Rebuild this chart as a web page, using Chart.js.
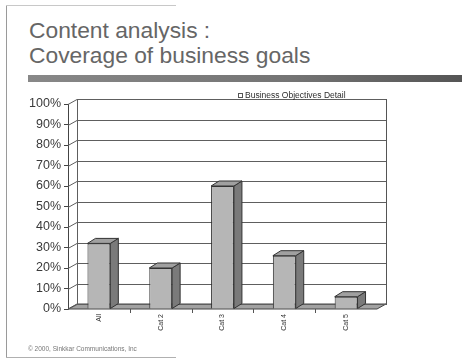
<!DOCTYPE html>
<html>
<head>
<meta charset="utf-8">
<script src="https://cdn.jsdelivr.net/npm/chart.js@4.4.1/dist/chart.umd.min.js"></script>
<style>
  html, body { margin: 0; padding: 0; background: #fff; }
  #slide { position: relative; width: 462px; height: 359px; overflow: hidden; background: #fff; filter: blur(0.35px); }
  #frameL { position: absolute; left: 6px; top: 5px; width: 1px; height: 352px; background: #9a9a9a; }
  #frameT { position: absolute; left: 6px; top: 5px; width: 170px; height: 1px; background: #c8c8c8; }
  #frameB { position: absolute; left: 6px; top: 357px; width: 170px; height: 1px; background: #b0b0b0; }
  #title { position: absolute; left: 29px; top: 18px; font-family: "Liberation Sans", Arial, sans-serif;
           font-size: 22.8px; line-height: 25px; color: #666; white-space: nowrap; }
  #rule { position: absolute; left: 28px; top: 75px; width: 434px; height: 7px;
          background: linear-gradient(90deg, #888, #747474 60%, #555); }
  #footer { position: absolute; left: 28px; top: 345px; font-family: "Liberation Sans", Arial, sans-serif;
            font-size: 6.5px; color: #777; white-space: nowrap; }
  canvas { position: absolute; left: 0; top: 0; }
</style>
</head>
<body>
<div id="slide">
  <div id="frameL"></div>
  <div id="frameT"></div>
  <div id="frameB"></div>
  <div id="title">Content analysis :<br>Coverage of business goals</div>
  <div id="rule"></div>
  <canvas id="chart" width="462" height="359"></canvas>
  <div id="footer">© 2000, Sinkkar Communications, Inc</div>
</div>
<script>
// Categories, values (percent) and axis ticks
const categories = ["All", "Cat 2", "Cat 3", "Cat 4", "Cat 5"];
const coverage = [32, 20, 60, 26, 6];
const seriesName = "Business Objectives Detail";
const yTicks = [0, 10, 20, 30, 40, 50, 60, 70, 80, 90, 100];

// depth of the 3D box (walls) and of each column
const WALL_DX = 9, WALL_DY = -5;
const BAR_DX = 8, BAR_DY = -5;

const box3d = {
  id: 'box3d',
  beforeDatasetsDraw(chart) {
    const { ctx, chartArea: a, scales: { y } } = chart;
    ctx.save();
    // floor
    ctx.beginPath();
    ctx.moveTo(a.left, a.bottom);
    ctx.lineTo(a.right, a.bottom);
    ctx.lineTo(a.right + WALL_DX, a.bottom + WALL_DY);
    ctx.lineTo(a.left + WALL_DX, a.bottom + WALL_DY);
    ctx.closePath();
    ctx.fillStyle = '#a2a2a2';
    ctx.fill();
    ctx.strokeStyle = '#444';
    ctx.lineWidth = 1;
    ctx.stroke();
    // back wall
    ctx.strokeStyle = '#555';
    ctx.strokeRect(a.left + WALL_DX + 0.5, a.top + WALL_DY + 0.5,
                   a.right - a.left, a.bottom - a.top);
    // gridlines on the side wall and back wall
    ctx.strokeStyle = '#5e5e5e';
    yTicks.forEach(v => {
      const py = Math.round(y.getPixelForValue(v)) + 0.5;
      ctx.beginPath();
      ctx.moveTo(a.left, py);
      ctx.lineTo(a.left + WALL_DX, py + WALL_DY);
      ctx.lineTo(a.right + WALL_DX, py + WALL_DY);
      ctx.stroke();
    });
    // side wall back edge
    ctx.beginPath();
    ctx.moveTo(a.left + WALL_DX + 0.5, a.top + WALL_DY);
    ctx.lineTo(a.left + WALL_DX + 0.5, a.bottom + WALL_DY);
    ctx.stroke();
    ctx.restore();
  },
  afterDatasetsDraw(chart) {
    const { ctx, chartArea: a } = chart;
    const meta = chart.getDatasetMeta(0);
    ctx.save();
    ctx.strokeStyle = '#333';
    ctx.lineWidth = 1;
    meta.data.forEach(bar => {
      const { x, y, base, width } = bar.getProps(['x', 'y', 'base', 'width'], true);
      const x0 = x - width / 2, x1 = x + width / 2;
      // side face
      ctx.beginPath();
      ctx.moveTo(x1, y);
      ctx.lineTo(x1 + BAR_DX, y + BAR_DY);
      ctx.lineTo(x1 + BAR_DX, base + BAR_DY);
      ctx.lineTo(x1, base);
      ctx.closePath();
      ctx.fillStyle = '#7a7a7a';
      ctx.fill();
      ctx.stroke();
      // top face
      ctx.beginPath();
      ctx.moveTo(x0, y);
      ctx.lineTo(x0 + BAR_DX, y + BAR_DY);
      ctx.lineTo(x1 + BAR_DX, y + BAR_DY);
      ctx.lineTo(x1, y);
      ctx.closePath();
      ctx.fillStyle = '#a0a0a0';
      ctx.fill();
      ctx.stroke();
    });
    // category tick marks under the floor
    const xs = chart.scales.x;
    ctx.strokeStyle = '#555';
    for (let i = 1; i < categories.length; i++) {
      const px = Math.round((xs.getPixelForValue(i - 1) + xs.getPixelForValue(i)) / 2) + 0.5;
      ctx.beginPath();
      ctx.moveTo(px, a.bottom);
      ctx.lineTo(px, a.bottom + 4);
      ctx.stroke();
    }
    // rotated category labels, reading upward
    ctx.fillStyle = '#333';
    ctx.font = '7px "Liberation Sans", Arial, sans-serif';
    ctx.textAlign = 'right';
    ctx.textBaseline = 'middle';
    categories.forEach((c, i) => {
      ctx.save();
      ctx.translate(xs.getPixelForValue(i), a.bottom + 5);
      ctx.rotate(-Math.PI / 2);
      ctx.fillText(c, 0, 0);
      ctx.restore();
    });
    // legend entry sitting on the top edge of the back wall
    const lx = 238, ly = a.top + WALL_DY - 1;
    ctx.fillStyle = '#fff';
    ctx.strokeStyle = '#555';
    ctx.fillRect(lx + 0.5, ly - 4.5, 4, 4);
    ctx.strokeRect(lx + 0.5, ly - 4.5, 4, 4);
    ctx.fillStyle = '#2e2e2e';
    ctx.font = '8.5px "Liberation Sans", Arial, sans-serif';
    ctx.textAlign = 'left';
    ctx.textBaseline = 'alphabetic';
    ctx.fillText(seriesName, lx + 7, ly);
    ctx.restore();
  }
};

new Chart(document.getElementById('chart'), {
  type: 'bar',
  data: {
    labels: categories,
    datasets: [{
      label: seriesName,
      data: coverage,
      backgroundColor: '#b6b6b6',
      borderColor: '#333',
      borderWidth: 1,
      categoryPercentage: 1,
      barPercentage: 0.37
    }]
  },
  options: {
    responsive: false,
    animation: false,
    devicePixelRatio: 1,
    layout: { padding: { top: 104, right: 85, left: 0, bottom: 0 } },
    plugins: { legend: { display: false }, tooltip: { enabled: false } },
    scales: {
      x: {
        grid: { display: false },
        border: { display: false },
        ticks: { display: false },
        afterFit(scale) { scale.height = 50; }
      },
      y: {
        min: 0, max: 100,
        afterFit(scale) { scale.width = 68; },
        afterBuildTicks(scale) { scale.ticks = yTicks.map(v => ({ value: v })); },
        grid: { drawOnChartArea: false, drawTicks: true, tickLength: 4, color: '#444' },
        border: { display: true, color: '#444' },
        ticks: {
          padding: 3,
          color: '#3a3a3a',
          font: { family: '"Liberation Sans", Arial, sans-serif', size: 12.5 },
          callback: v => v + '%'
        }
      }
    }
  },
  plugins: [box3d]
});
</script>
</body>
</html>
